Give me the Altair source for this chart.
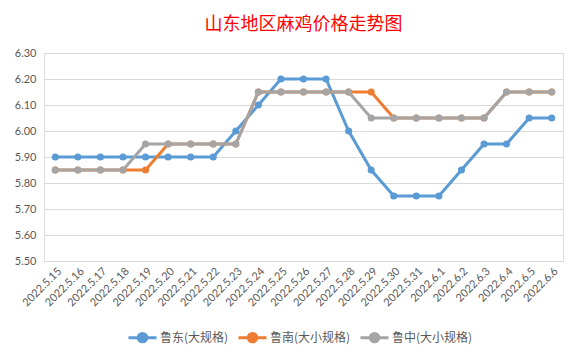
import altair as alt
import pandas as pd

dates = ["2022.5.15", "2022.5.16", "2022.5.17", "2022.5.18", "2022.5.19", "2022.5.20",
         "2022.5.21", "2022.5.22", "2022.5.23", "2022.5.24", "2022.5.25", "2022.5.26",
         "2022.5.27", "2022.5.28", "2022.5.29", "2022.5.30", "2022.5.31", "2022.6.1",
         "2022.6.2", "2022.6.3", "2022.6.4", "2022.6.5", "2022.6.6"]
series_names = ["鲁东(大规格)", "鲁南(大小规格)", "鲁中(大小规格)"]
ludong = [5.90, 5.90, 5.90, 5.90, 5.90, 5.90, 5.90, 5.90, 6.00, 6.10, 6.20, 6.20,
          6.20, 6.00, 5.85, 5.75, 5.75, 5.75, 5.85, 5.95, 5.95, 6.05, 6.05]
lunan = [5.85, 5.85, 5.85, 5.85, 5.85, 5.95, 5.95, 5.95, 5.95, 6.15, 6.15, 6.15,
         6.15, 6.15, 6.15, 6.05, 6.05, 6.05, 6.05, 6.05, 6.15, 6.15, 6.15]
luzhong = [5.85, 5.85, 5.85, 5.85, 5.95, 5.95, 5.95, 5.95, 5.95, 6.15, 6.15, 6.15,
           6.15, 6.15, 6.05, 6.05, 6.05, 6.05, 6.05, 6.05, 6.15, 6.15, 6.15]
colors = ["#5B9BD5", "#ED7D31", "#A5A5A5"]
y_ticks = [5.5, 5.6, 5.7, 5.8, 5.9, 6.0, 6.1, 6.2, 6.3]

rows = []
for name, vals in zip(series_names, [ludong, lunan, luzhong]):
    for d, v in zip(dates, vals):
        rows.append({"date": d, "price": v, "series": name})
df = pd.DataFrame(rows)

FONT = "Lato"
CJK = "Noto Sans CJK SC"

color_scale = alt.Scale(domain=series_names, range=colors)
legend_path = "M-1,0H1M-0.3,0A0.3,0.3,0,1,0,0.3,0A0.3,0.3,0,1,0,-0.3,0Z"

x_enc = alt.X("date:N", sort=dates, title=None,
              scale=alt.Scale(type="point", padding=0.5),
              axis=alt.Axis(labelAngle=-45, ticks=False, domain=False, grid=False,
                            labelFont=FONT, labelFontSize=11, labelColor="#595959",
                            labelPadding=4))
y_enc = alt.Y("price:Q", title=None,
              scale=alt.Scale(domain=[5.5, 6.3], nice=False, zero=False),
              axis=alt.Axis(values=y_ticks, format=".2f", ticks=False, domain=False,
                            grid=True, gridColor="#D9D9D9", gridWidth=1,
                            labelFont=FONT, labelFontSize=11, labelColor="#595959",
                            labelPadding=8))
color_enc = alt.Color("series:N", scale=color_scale, title=None,
                      legend=alt.Legend(orient="none", direction="horizontal",
                                        legendX=83, legendY=269,
                                        symbolType=legend_path, symbolSize=784,
                                        symbolStrokeWidth=3,
                                        labelFont=CJK, labelFontSize=12,
                                        labelColor="#595959", columnPadding=3,
                                        labelOffset=2))

layers = []
for name in series_names:
    base = alt.Chart(df).transform_filter(alt.datum.series == name)
    layers.append(base.mark_line(strokeWidth=3).encode(x=x_enc, y=y_enc, color=color_enc))
    layers.append(base.mark_circle(size=50, opacity=1).encode(x=x_enc, y=y_enc, color=color_enc))

chart = alt.layer(*layers).properties(
    width=519, height=208,
    title=alt.Title("山东地区麻鸡价格走势图", font=CJK, fontSize=18, fontWeight="normal",
                    color="#FF0000", anchor="middle", offset=13),
    autosize=alt.AutoSizeParams(type="none"),
    padding={"left": 36, "top": 45, "right": 10, "bottom": 89},
).configure_view(stroke=None).configure(background="white")

chart.save("out.html", embed_options={"renderer": "svg", "actions": False})
